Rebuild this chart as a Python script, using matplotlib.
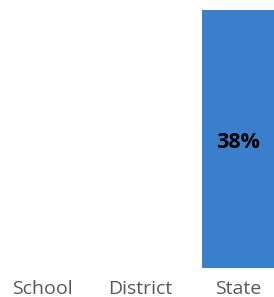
import numpy as np
import matplotlib
matplotlib.use("Agg")
import matplotlib.pyplot as plt

categories = ["School", "District", "State"]
values = [np.nan, np.nan, 38]

W, H = 274, 297
fig = plt.figure(figsize=(W / 100, H / 100), dpi=100)
# axes spans slightly beyond the figure, as in the reference
left_px, right_px, bottom_px, top_px = -7, 287, 268, 10
ax = fig.add_axes([left_px / W, (H - bottom_px) / H, (right_px - left_px) / W, (bottom_px - top_px) / H])

x = np.arange(len(categories))
bars = ax.bar(x, values, width=0.74, color="#3A7FCC")
for xi, v in zip(x, values):
    if not np.isnan(v):
        ax.annotate(f"{v:.0f}%", (xi, v / 2), xytext=(0, -3), textcoords="offset pixels",
                    ha="center", va="center", fontsize=15.5,
                    fontweight="bold", color="black", family="Open Sans")

ax.set_xlim(-0.5, 2.5)
ax.set_ylim(0, 38)
ax.set_xticks(x)
ax.set_xticklabels(categories, fontsize=14, color="#595959", family="Open Sans")
ax.tick_params(axis="x", length=0, pad=9)
ax.set_yticks([])
for s in ax.spines.values():
    s.set_visible(False)

fig.savefig("out.png", dpi=100)
